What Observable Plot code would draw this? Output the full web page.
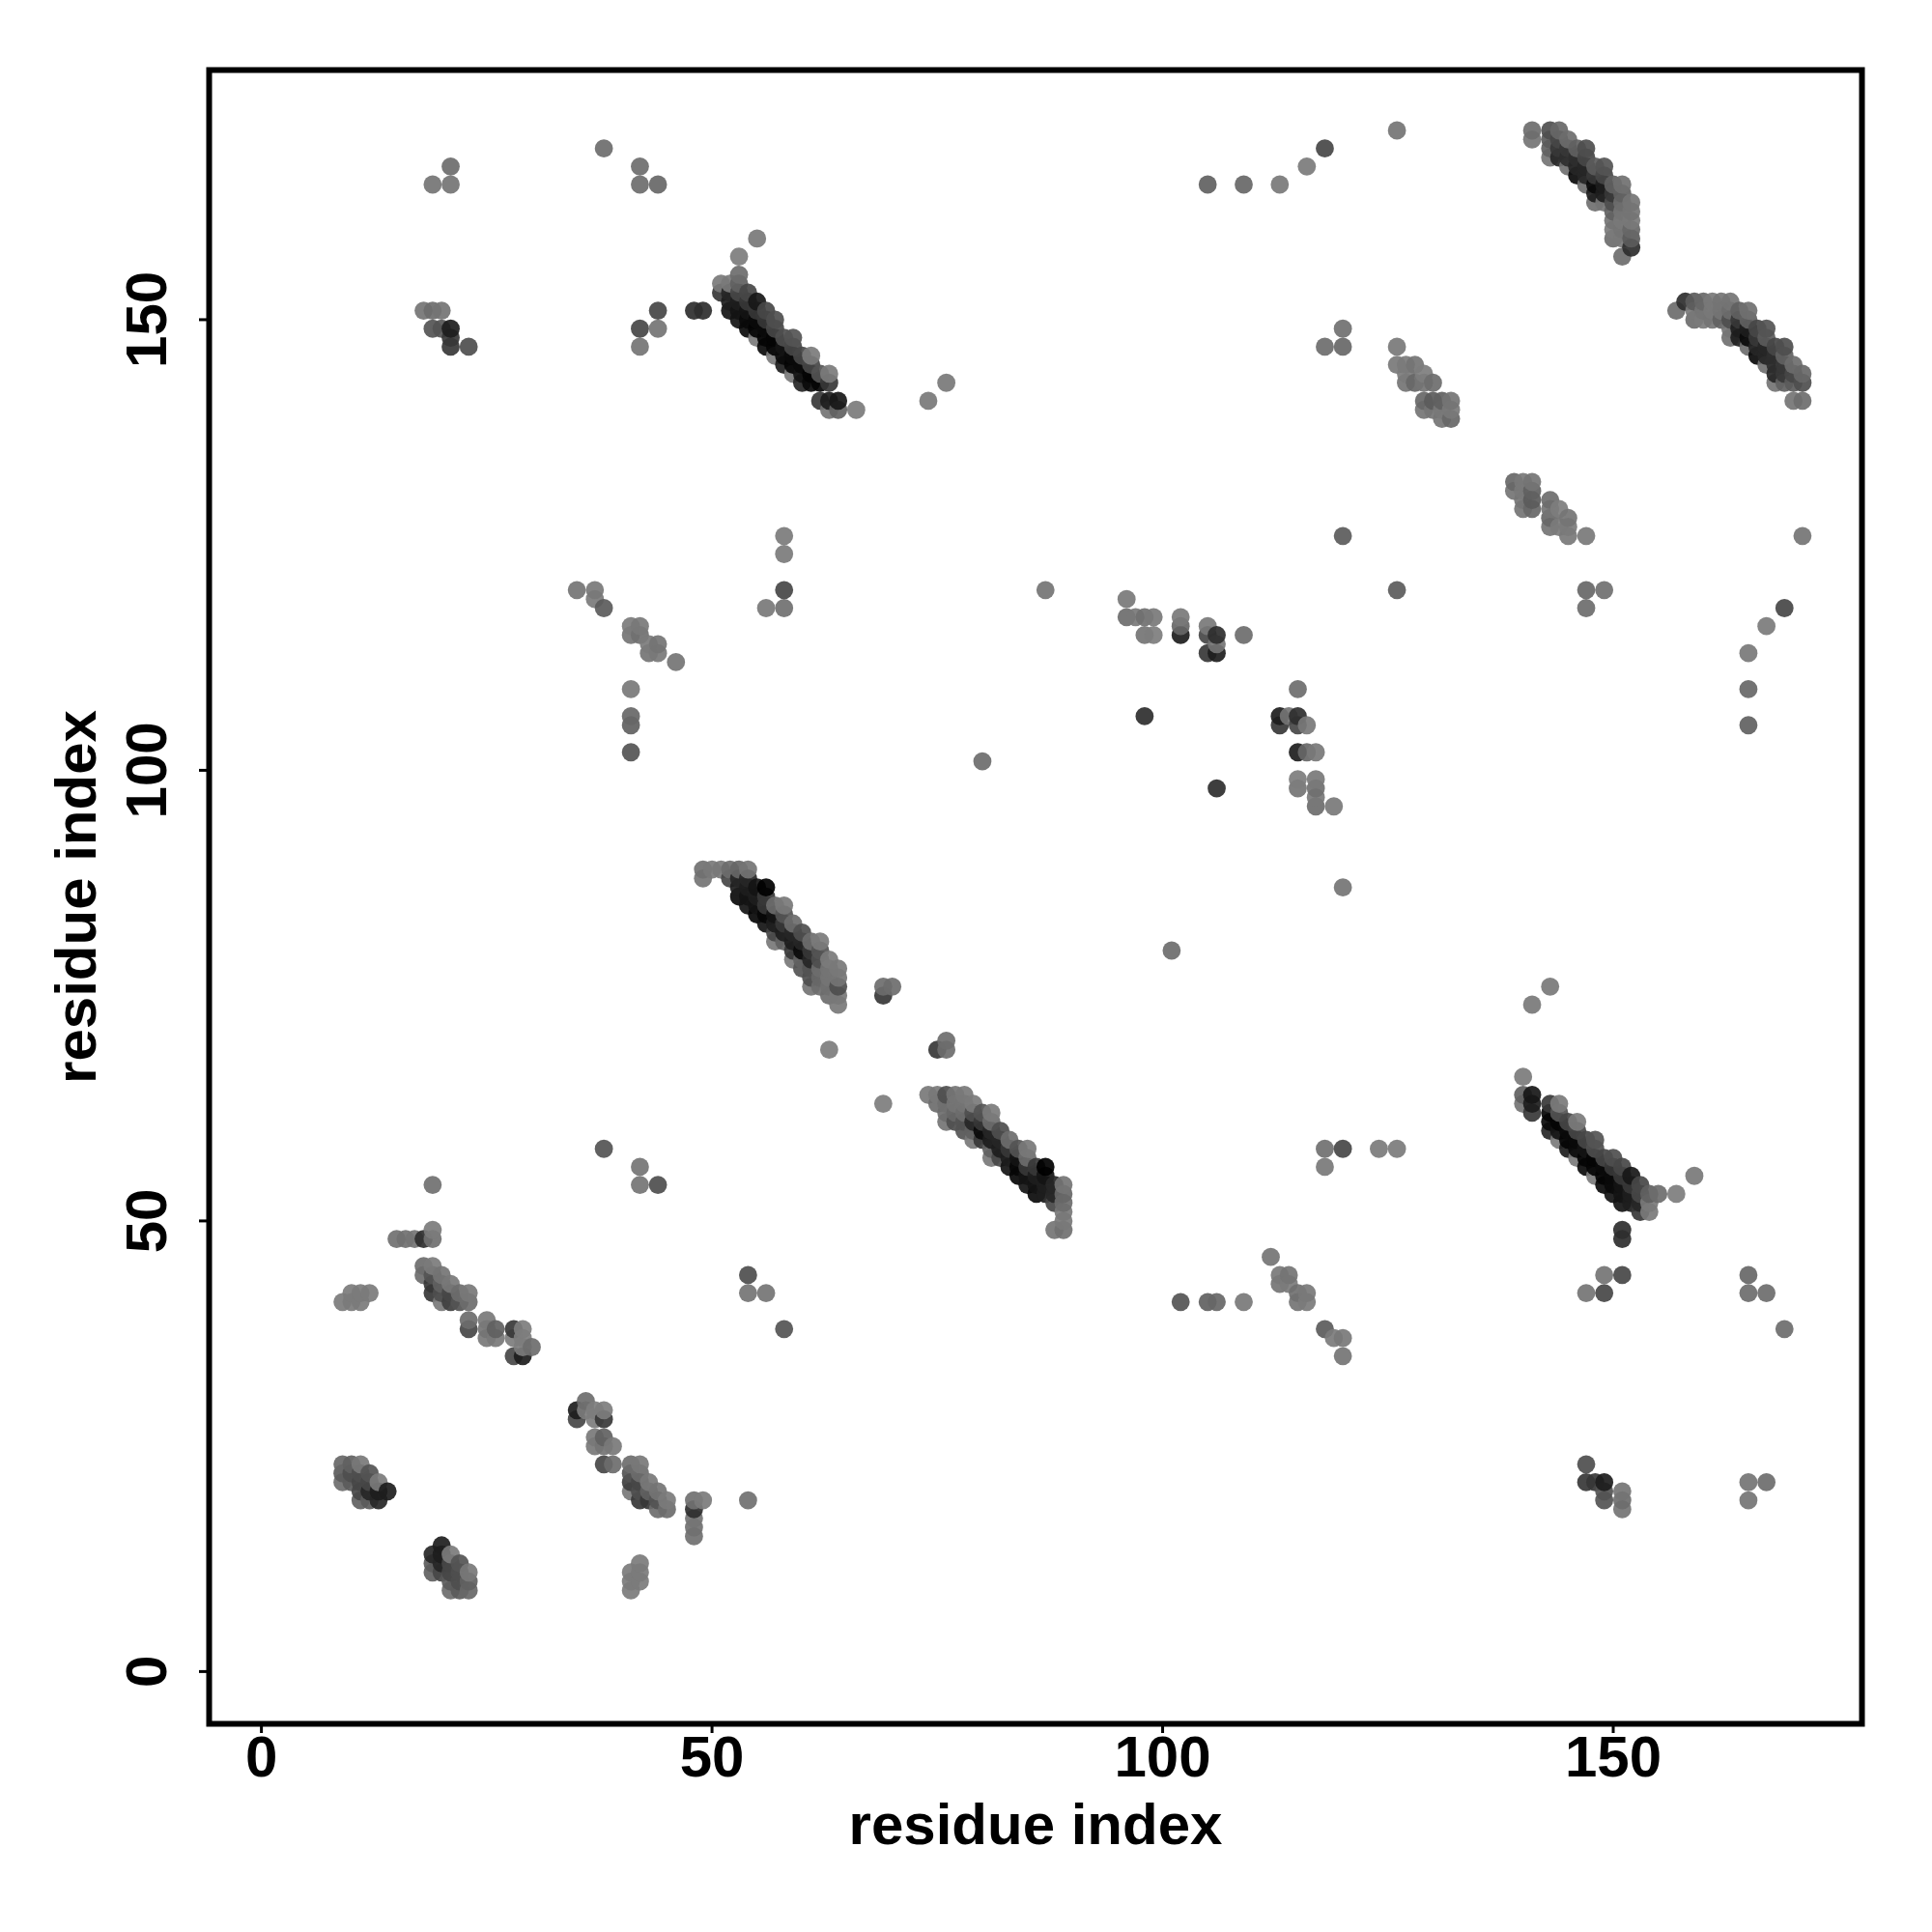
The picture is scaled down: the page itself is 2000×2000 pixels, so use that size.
<!DOCTYPE html>
<html>
<head>
<meta charset="utf-8">
<script src="https://cdn.jsdelivr.net/npm/d3@7"></script>
<script src="https://cdn.jsdelivr.net/npm/@observablehq/plot@0.6"></script>
<style>html,body{margin:0;padding:0;background:#fff}svg{display:block}</style>
</head>
<body>
<script>
const tickValues = [0, 50, 100, 150];
const axisTitle = "residue index";
// contacts as [residue i, residue j, strength], i < j (the map is symmetric)
const blockA = [[9,23,.35],[10,23,.4],[11,23,.15],[9,22,.45],[10,22,.55],[11,22,.55],[12,22,.5],[9,21,.3],[10,21,.45],[11,21,.6],[12,21,.6],[13,21,.1],[11,20,.6],[12,20,.8],[13,20,.85],[14,20,.85],[11,19,.4],[12,19,.45],[13,19,.8]];
const blockB = [[9,41,.1],[10,41,.1],[11,41,.1],[10,42,.1],[11,42,.1],[12,42,.1]];
const blockC = [[15,48,.25],[16,48,.25],[17,48,.2],[18,48,.75],[19,48,.25],[19,49,.1],[19,54,.25],[18,45,.3],[19,45,.1],[18,44,.3],[19,44,.5],[20,44,.2],[19,43,.7],[20,43,.4],[21,43,.15],[19,42,.7],[20,42,.55],[21,42,.6],[22,42,.3],[23,42,.15],[20,41,.15],[21,41,.65],[22,41,.5],[23,41,.3]];
const blockD = [[23,39,.3],[23,38,.6],[25,39,.15],[25,38,.2],[25,37,.15],[26,38,.4],[26,37,.15],[28,38,.7],[29,38,.05],[28,37,.05],[29,37,.05],[29,36,.05],[30,36,.3],[28,35,.6],[29,35,.85]];
const sheetA = [[53,155,.3],[51,154,.12],[52,154,.12],[53,154,.4],[51,153,.7],[52,153,.8],[53,153,.6],[54,153,.6],[52,152,.85],[53,152,.85],[54,152,.7],[55,152,.88],[48,151,.75],[49,151,.75],[52,151,.9],[53,151,.9],[54,151,.9],[55,151,.7],[56,151,.6],[53,150,.9],[54,150,.95],[55,150,.95],[56,150,.7],[57,150,.55],[54,149,.95],[55,149,.98],[56,149,.95],[57,149,.6],[55,148,.1],[56,148,.98],[57,148,.98],[58,148,.55],[59,148,.5],[56,147,.95],[57,147,.98],[58,147,.9],[59,147,.6],[57,146,.1],[58,146,.95],[59,146,.95],[60,146,.6],[61,146,.1],[58,145,.85],[59,145,.98],[60,145,.95],[61,145,.6],[59,144,.1],[60,144,.9],[61,144,.98],[62,144,.5],[63,144,.1],[60,143,.8],[61,143,.95],[62,143,.98],[63,143,.7],[62,141,.7],[63,141,.85],[64,141,.88],[63,140,.2],[64,140,.4],[66,140,.1]];
const sheetB = [[49,89,.25],[50,89,.15],[51,89,.15],[52,89,.3],[53,89,.35],[54,89,.2],[49,88,.2],[52,88,.6],[53,88,.8],[54,88,.8],[53,87,.85],[54,87,.85],[55,87,.9],[56,87,1],[53,86,.95],[54,86,.9],[55,86,.85],[56,86,.7],[54,85,.9],[55,85,.9],[56,85,.7],[57,85,.3],[58,85,.15],[55,84,.97],[56,84,.97],[57,84,.9],[58,84,.5],[56,83,.9],[57,83,.85],[58,83,.7],[59,83,.3],[57,82,.6],[58,82,.85],[59,82,.8],[60,82,.55],[57,81,.15],[58,81,.4],[59,81,.85],[60,81,.8],[61,81,.3],[62,81,.1],[59,80,.7],[60,80,.95],[61,80,.7],[62,80,.5],[59,79,.15],[60,79,.4],[61,79,.8],[62,79,.55],[63,79,.1],[60,78,.5],[61,78,.5],[62,78,.3],[63,78,.2],[64,78,.15],[61,77,.55],[62,77,.35],[63,77,.2],[64,77,.2],[61,76,.2],[62,76,.3],[63,76,.25],[64,76,.55],[63,75,.3],[64,75,.15],[64,74,.15]];
const sheetE = [[141,171,.3],[141,170,.2],[143,171,.55],[143,170,.45],[143,169,.4],[143,168,.2],[144,171,.35],[144,170,.6],[144,169,.7],[144,168,.8],[145,170,.3],[145,169,.7],[145,168,.75],[145,167,.25],[146,169,.4],[146,168,.75],[146,167,.8],[146,166,.95],[147,169,.55],[147,168,.6],[147,167,.8],[147,166,.8],[147,165,.3],[148,167,.45],[148,166,.7],[148,165,.95],[148,164,.85],[148,163,.25],[149,167,.5],[149,166,.6],[149,165,.85],[149,164,.85],[149,163,.2],[150,165,.4],[150,164,.7],[150,163,.55],[150,162,.4],[150,161,.2],[150,160,.1],[150,159,.3],[151,165,.25],[151,164,.4],[151,163,.3],[151,162,.2],[151,161,.15],[151,160,.2],[151,159,.15],[151,157,.3],[152,163,.2],[152,162,.2],[152,161,.15],[152,160,.35],[152,159,.45],[152,158,.75]];
const blockF = [[132,139,.35],[131,139,.2],[132,140,.15],[131,140,.15],[130,140,.2],[129,140,.2],[132,141,.2],[131,141,.4],[130,141,.45],[129,141,.35],[130,143,.3],[129,143,.2],[128,143,.35],[127,143,.2],[129,144,.05],[127,144,.1],[128,145,.2],[127,145,.1],[126,145,.15],[126,147,.15]];
const blockG = [[96,119,.15],[96,117,.3],[97,117,.15],[98,117,.25],[99,117,.15],[98,115,.2],[99,115,.05],[102,117,.15],[102,116,.35],[102,115,.85],[105,116,.15],[105,115,.6],[105,113,.7],[106,115,.75],[106,114,.2],[106,113,.85],[109,115,.3],[98,106,.75]];
const scattered = [[38,58,.5],[42,56,.2],[42,54,.2],[44,54,.55],[38,169,.3],[42,167,.3],[42,165,.3],[44,165,.35],[19,165,.2],[21,165,.2],[21,167,.3],[18,151,.2],[19,151,.3],[20,151,.2],[19,149,.5],[20,149,.5],[21,149,.85],[21,148,.7],[21,147,.7],[23,147,.55],[44,151,.6],[44,149,.2],[42,149,.6],[42,147,.2],[53,157,.05],[55,159,.15],[74,141,.15],[76,143,.15],[58,126,.1],[58,124,.1],[58,120,.6],[58,118,.25],[56,118,.15],[87,120,.2],[63,69,.05],[69,76,.3],[70,76,.3],[69,75,.7],[80,101,.3],[35,120,.2],[37,120,.15],[37,119,.1],[38,118,.45],[41,116,.1],[41,115,.2],[42,116,.15],[42,115,.25],[43,114,.1],[44,114,.2],[43,113,.2],[44,113,.15],[46,112,.2],[41,109,.15],[41,106,.35],[41,105,.4],[41,102,.5],[118,147,.3],[120,147,.35],[120,149,.25],[126,171,.2],[118,169,.6],[116,167,.1],[113,165,.15],[109,165,.35],[105,165,.4],[120,126,.45]];

const contacts = [blockA, blockB, blockC, blockD, sheetA, sheetB, sheetE, blockF, blockG, scattered].flat();
const rows = contacts
  .flatMap(([i, j, s]) => [{x: i, y: j, s}, {x: j, y: i, s}])
  .sort((a, b) => a.x - b.x || a.y - b.y);

const chart = Plot.plot({
  width: 2000, height: 2000,
  marginLeft: 216, marginRight: 73, marginTop: 72, marginBottom: 216,
  x: {domain: [-5.8, 177.6]},
  y: {domain: [-5.8, 177.7]},
  color: {type: "pow", exponent: 1.6, domain: [0, 1], range: ["#7e7e7e", "#000000"]},
  style: {fontFamily: "'Liberation Sans', Arial, sans-serif", fontWeight: "bold", fontSize: "60px", background: "#fff", color: "#000"},
  marks: [
    Plot.dot(rows, {x: "x", y: "y", r: 9.4, fill: "s", fillOpacity: 0.92, stroke: "none"}),
    Plot.frame({stroke: "#000", strokeWidth: 6}),
    Plot.axisX({ticks: tickValues, tickSize: 10, tickPadding: 2, strokeWidth: 3, label: axisTitle, labelAnchor: "center", labelArrow: "none", labelOffset: 124, fontSize: 60}),
    Plot.axisY({ticks: tickValues, tickSize: 10, tickPadding: 35, strokeWidth: 3, tickRotate: -90, label: axisTitle, labelAnchor: "center", labelArrow: "none", labelOffset: 160, fontSize: 60})
  ]
});
document.body.appendChild(chart);
</script>
</body>
</html>
